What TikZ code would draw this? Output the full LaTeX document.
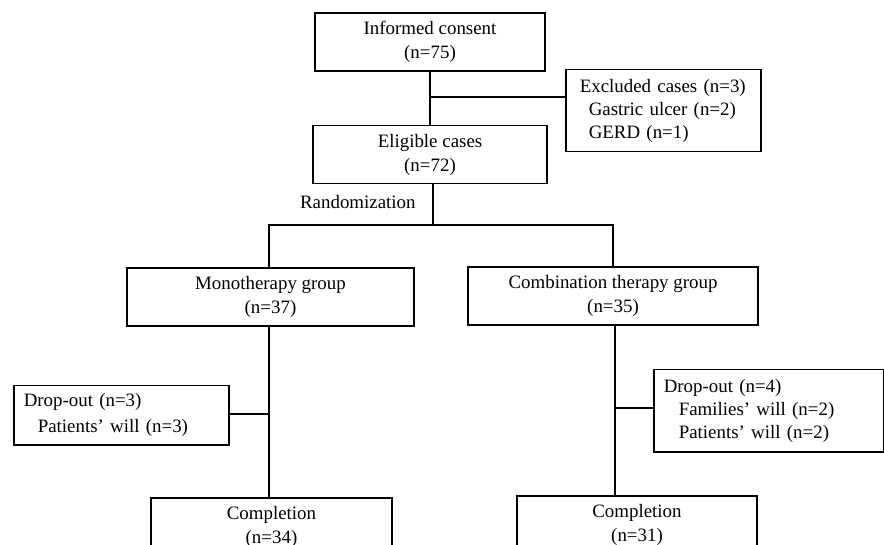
\documentclass[tikz,border=0pt]{standalone}
\usepackage{fontspec}
\setmainfont{Liberation Serif}
\usepackage{tikz}
\usetikzlibrary{positioning}

\begin{document}
\begin{tikzpicture}[
  x=0.5pt, y=-0.5pt,
  every node/.style={font=\fontsize{9.45}{12}\selectfont},
  stagebox/.style={rectangle, draw, line width=0.75pt, minimum height=29pt, align=center, inner sep=2pt},
  notebox/.style={rectangle, draw, line width=0.75pt, anchor=north west, align=left, inner ysep=2pt},
  link/.style={line width=0.75pt}
]
\clip (0,0) rectangle (884,545);

\node[stagebox, minimum width=115pt] (consent) at (430,42) {Informed consent\\(n=75)};
\node[stagebox, minimum width=117pt, below=26.5pt of consent.south, anchor=north] (eligible) {Eligible cases\\(n=72)};

\node[notebox, minimum width=97.5pt, minimum height=41pt, inner xsep=7pt, text width=83.5pt,
      font=\fontsize{9.45}{11.5}\selectfont] (excluded) at (565,69)
  {\mbox{Excluded cases (n=3)}\\\hspace*{4.5pt}Gastric ulcer (n=2)\\\hspace*{4.5pt}GERD (n=1)};

\node[stagebox, minimum width=143.5pt] (mono) at (270.5,297) {Monotherapy group\\(n=37)};
\node[stagebox, minimum width=145pt] (combo) at (613,296) {Combination therapy group\\(n=35)};

\node[notebox, minimum width=107.5pt, minimum height=29.5pt, inner xsep=5pt, text width=97.5pt,
      font=\fontsize{9.45}{13}\selectfont] (dropmono) at (13,385)
  {Drop-out (n=3)\\\hspace*{7pt}Patients' will (n=3)};
\node[notebox, minimum width=115pt, minimum height=41pt, inner xsep=5pt, text width=105pt,
      font=\fontsize{9.45}{11.5}\selectfont] (dropcombo) at (653,369)
  {Drop-out (n=4)\\\hspace*{7.5pt}Families' will (n=2)\\\hspace*{7.5pt}Patients' will (n=2)};

\node[stagebox, minimum width=120.5pt] (donemono) at (271.5,527) {Completion\\(n=34)};
\node[stagebox, minimum width=120pt] (donecombo) at (637,525) {Completion\\(n=31)};

\node[anchor=east, inner sep=3pt] (randlabel) at (422,202) {Randomization};

% consent -> eligible, with exclusions
\coordinate (exj) at (431,97);
\coordinate (rj) at (433,225);
\draw[link] (consent) -- (eligible);
\draw[link] (exj) -- (exj -| excluded.west);

% randomization split
\draw[link] (eligible.south -| rj) -- (rj);
\draw[link] (mono.north -| 269,0) |- (rj) -| (combo.north);

% follow-up
\draw[link] (269,0 |- mono.south) -- (269,0 |- donemono.north);
\draw[link] (dropmono.east |- 0,414) -- (269,414);
\draw[link] (615,0 |- combo.south) -- (615,0 |- donecombo.north);
\draw[link] (dropcombo.west |- 0,408) -- (615,408);

\end{tikzpicture}
\end{document}
